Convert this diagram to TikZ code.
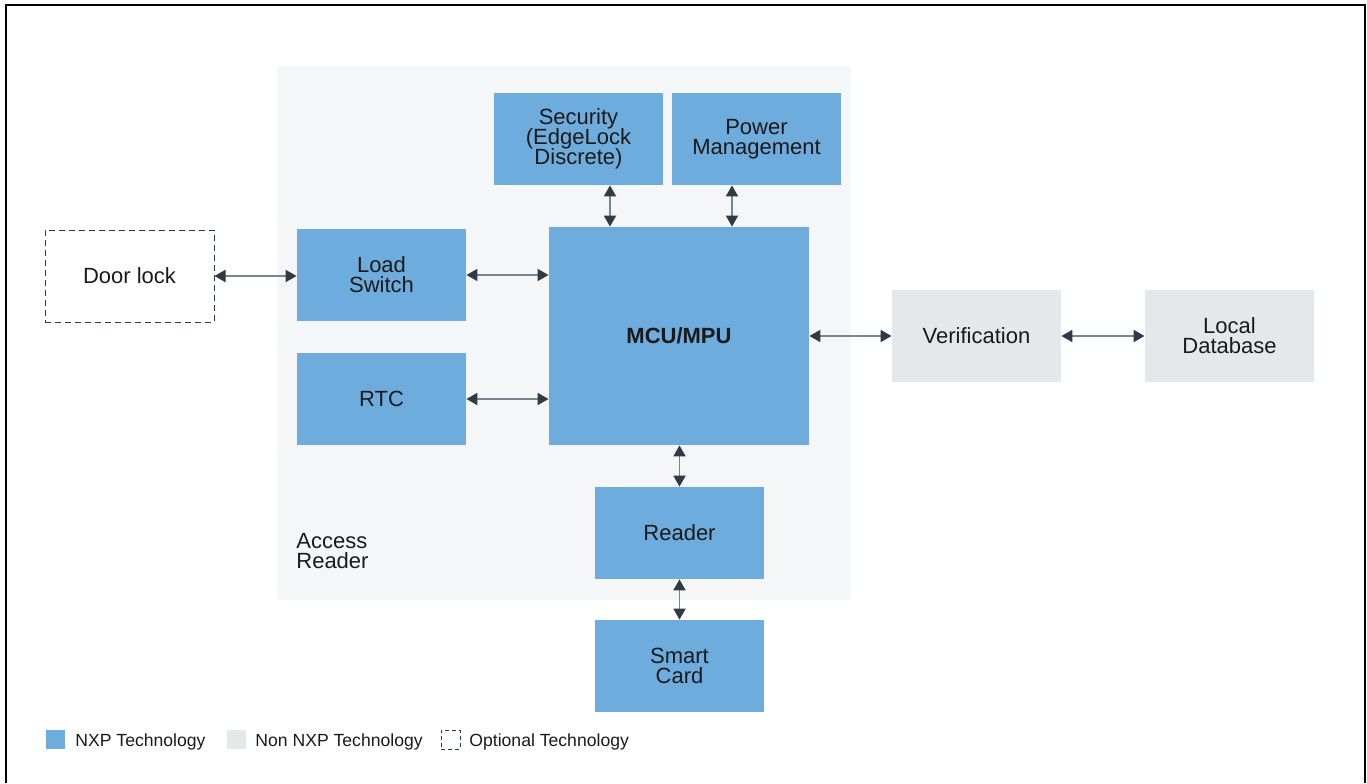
\documentclass[tikz,border=0pt]{standalone}
\usepackage{fontspec}
\setmainfont{Liberation Sans}
\usetikzlibrary{positioning,arrows.meta}
\definecolor{nxpblue}{HTML}{6EACDE}
\definecolor{nonnxp}{HTML}{E4E8EB}
\definecolor{readerbg}{HTML}{F5F6F8}
\definecolor{linkgray}{HTML}{7B858C}
\definecolor{tipdark}{HTML}{2E3A44}
\definecolor{txt}{HTML}{1A1A1A}
\newcommand{\blockfont}{\fontsize{11pt}{10pt}\selectfont\lineskiplimit=-10pt\relax}
\begin{document}
\begin{tikzpicture}[x=0.5pt, y=-0.5pt, font=\blockfont, text=txt,
    nxp/.style={fill=nxpblue, minimum width=84.5pt, minimum height=46pt, align=center, inner sep=0pt},
    other/.style={fill=nonnxp, minimum width=84.5pt, minimum height=46pt, align=center, inner sep=0pt},
    optional/.style={draw=tipdark, dashed, dash pattern=on 3pt off 2pt, line width=0.5pt, minimum width=84.5pt, minimum height=46pt, align=center, inner sep=0pt},
    link/.style={draw=linkgray, line width=0.9pt, {Triangle[length=5.5pt, width=6pt, color=tipdark]}-{Triangle[length=5.5pt, width=6pt, color=tipdark]}},
    legendtext/.style={anchor=base west, inner sep=0pt, font=\fontsize{8.8pt}{10pt}\selectfont}]
  \useasboundingbox (0,0) rectangle (1367,783);
  \draw[line width=1pt] (6,783) -- (6,5) -- (1365,5) -- (1365,783);
  % access reader area
  \fill[readerbg] (277,66) rectangle (851,600);
  \node[anchor=west, align=left, inner sep=0pt] (accesslbl) at (296,551) {Access\\Reader};
  % blocks
  \node[nxp] (sec) at (578.5,139) {Security\\(EdgeLock\\Discrete)};
  \node[nxp] (pwr) at (756.5,139) {Power\\Management};
  \node[nxp] (load) at (381.5,275) {Load\\Switch};
  \node[nxp] (rtc) at (381.5,399) {RTC};
  \node[nxp, minimum width=130pt, minimum height=109pt, font=\blockfont\bfseries] (mcu) at (679,336) {MCU/MPU};
  \node[nxp] (reader) at (679.5,533) {Reader};
  \node[nxp] (card) at (679.5,666) {Smart\\Card};
  \node[optional] (door) at (129.5,276) {Door lock};
  \node[other] (verif) at (976.5,336) {Verification};
  \node[other] (db) at (1229.5,336) {Local\\Database};
  % connectors
  \draw[link] (door.east) -- (door.east -| load.west);
  \draw[link] (load.east) -- (load.east -| mcu.west);
  \draw[link] (rtc.east) -- (rtc.east -| mcu.west);
  \draw[link] ([xshift=15.75pt]sec.south) -- ([xshift=15.75pt]sec.south |- mcu.north);
  \draw[link] ([xshift=-12.25pt]pwr.south) -- ([xshift=-12.25pt]pwr.south |- mcu.north);
  \draw[link] (mcu.south -| reader.north) -- (reader.north);
  \draw[link] (reader.south) -- (card.north);
  \draw[link] (mcu.east) -- (verif.west);
  \draw[link] (verif.east) -- (db.west);
  % legend
  \node[fill=nxpblue, minimum size=9.5pt, inner sep=0pt] (keynxp) at (55.5,739.5) {};
  \node[legendtext] (txtnxp) at (75,746) {NXP Technology};
  \node[fill=nonnxp, minimum size=9.5pt, inner sep=0pt] (keyother) at (236.5,739.5) {};
  \node[legendtext] (txtother) at (255,746) {Non NXP Technology};
  \node[draw=tipdark, dashed, dash pattern=on 2pt off 1.5pt, line width=0.5pt, minimum size=9.5pt, inner sep=0pt] (keyopt) at (450.5,739.5) {};
  \node[legendtext] (txtopt) at (469,746) {Optional Technology};
\end{tikzpicture}
\end{document}
